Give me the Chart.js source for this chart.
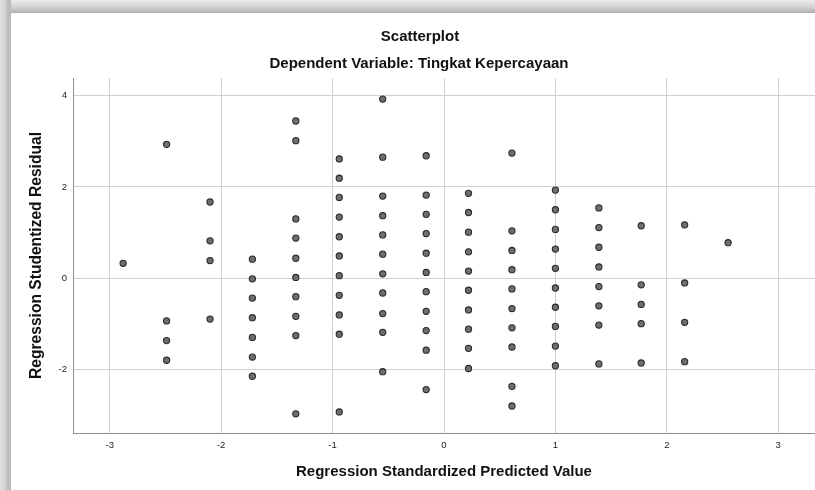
<!DOCTYPE html>
<html><head><meta charset="utf-8">
<script src="https://cdn.jsdelivr.net/npm/chart.js@4"></script>
<style>html,body{margin:0;padding:0;background:#fff}#wrap{width:815px;height:490px}</style>
</head><body><div id="wrap"><canvas id="c" width="815" height="490"></canvas></div>
<script>
// Regression Standardized Predicted Value (x) and Studentized Residual (y)
const predicted = [
  -2.88,
  -2.49, -2.49, -2.49, -2.49,
  -2.10, -2.10, -2.10, -2.10,
  -1.72, -1.72, -1.72, -1.72, -1.72, -1.72, -1.72,
  -1.33, -1.33, -1.33, -1.33, -1.33, -1.33, -1.33, -1.33, -1.33, -1.33,
  -0.94, -0.94, -0.94, -0.94, -0.94, -0.94, -0.94, -0.94, -0.94, -0.94, -0.94,
  -0.55, -0.55, -0.55, -0.55, -0.55, -0.55, -0.55, -0.55, -0.55, -0.55, -0.55,
  -0.16, -0.16, -0.16, -0.16, -0.16, -0.16, -0.16, -0.16, -0.16, -0.16, -0.16,
  0.22, 0.22, 0.22, 0.22, 0.22, 0.22, 0.22, 0.22, 0.22, 0.22,
  0.61, 0.61, 0.61, 0.61, 0.61, 0.61, 0.61, 0.61, 0.61, 0.61,
  1.00, 1.00, 1.00, 1.00, 1.00, 1.00, 1.00, 1.00, 1.00, 1.00,
  1.39, 1.39, 1.39, 1.39, 1.39, 1.39, 1.39, 1.39,
  1.77, 1.77, 1.77, 1.77, 1.77,
  2.16, 2.16, 2.16, 2.16,
  2.55
];
const residual = [
  0.33,
  2.93, -0.93, -1.36, -1.79,
  1.67, 0.82, 0.39, -0.89,
  0.42, -0.01, -0.43, -0.86, -1.29, -1.72, -2.14,
  3.44, 3.01, 1.30, 0.88, 0.44, 0.02, -0.40, -0.83, -1.25, -2.96,
  2.61, 2.19, 1.77, 1.34, 0.91, 0.49, 0.06, -0.37, -0.80, -1.22, -2.92,
  3.92, 2.65, 1.80, 1.37, 0.95, 0.53, 0.10, -0.32, -0.77, -1.18, -2.04,
  2.68, 1.82, 1.40, 0.98, 0.55, 0.13, -0.29, -0.72, -1.14, -1.57, -2.43,
  1.86, 1.44, 1.01, 0.58, 0.16, -0.26, -0.69, -1.11, -1.53, -1.97,
  2.74, 1.04, 0.61, 0.19, -0.23, -0.66, -1.08, -1.50, -2.36, -2.79,
  1.93, 1.50, 1.07, 0.64, 0.22, -0.21, -0.63, -1.05, -1.48, -1.91,
  1.54, 1.11, 0.68, 0.25, -0.18, -0.60, -1.02, -1.87,
  1.15, -0.14, -0.57, -0.99, -1.85,
  1.17, -0.10, -0.96, -1.82,
  0.78
];
const xTicks = [-3, -2, -1, 0, 1, 2, 3];
const yTicks = [-2, 0, 2, 4];
const chartTitle = 'Scatterplot';
const chartSubtitle = 'Dependent Variable: Tingkat Kepercayaan';
const xTitle = 'Regression Standardized Predicted Value';
const yTitle = 'Regression Studentized Residual';

const points = predicted.map((x, i) => ({x: x, y: residual[i]}));
const FONT = '"Liberation Sans", Arial, sans-serif';

const framePlugin = {
  id: 'frame',
  beforeDraw(chart) {
    const c = chart.ctx, W = chart.width, H = chart.height;
    c.save();
    c.fillStyle = '#ffffff';
    c.fillRect(0, 0, W, H);
    let g = c.createLinearGradient(0, 0, 0, 13);
    g.addColorStop(0, '#ececec');
    g.addColorStop(0.5, '#d4d4d4');
    g.addColorStop(0.85, '#bdbdbd');
    g.addColorStop(1, '#acacac');
    c.fillStyle = g;
    c.fillRect(0, 0, W, 13);
    g = c.createLinearGradient(0, 0, 11, 0);
    g.addColorStop(0, '#e0e0e0');
    g.addColorStop(0.5, '#d2d2d2');
    g.addColorStop(0.6, '#c2c2c2');
    g.addColorStop(1, '#b8b8b8');
    c.fillStyle = g;
    c.fillRect(0, 0, 11, H);
    c.restore();
  },
  afterDraw(chart) {
    const c = chart.ctx, a = chart.chartArea;
    c.save();
    c.fillStyle = '#111';
    c.font = 'bold 15px ' + FONT;
    c.textAlign = 'center';
    c.textBaseline = 'middle';
    c.fillText(chartTitle, 420, 37);
    c.fillText(chartSubtitle, 419, 64);
    c.fillText(xTitle, 444, 472);
    c.font = 'bold 15.6px ' + FONT;
    c.translate(37, (a.top + a.bottom) / 2);
    c.rotate(-Math.PI / 2);
    c.fillText(yTitle, 0, 0);
    c.restore();
  }
};

new Chart(document.getElementById('c'), {
  type: 'scatter',
  data: {
    datasets: [{
      data: points,
      pointRadius: 3.1,
      pointHoverRadius: 3.1,
      backgroundColor: '#6e6e6e',
      borderColor: '#2b2b2b',
      borderWidth: 1.1
    }]
  },
  options: {
    responsive: false,
    animation: false,
    devicePixelRatio: 1,
    layout: {autoPadding: false, padding: {top: 78, left: 0, right: -4, bottom: 0}},
    plugins: {legend: {display: false}, tooltip: {enabled: false}, title: {display: false}},
    scales: {
      x: {
        type: 'linear', min: -3.33, max: 3.33,
        afterBuildTicks: s => { s.ticks = xTicks.map(v => ({value: v})); },
        afterFit: s => { s.height = 57; s.paddingLeft = 0; s.paddingRight = 0; },
        grid: {color: '#d0d0d0', lineWidth: 1, drawTicks: false},
        border: {color: '#8c8c8c', width: 1},
        ticks: {padding: 7, font: {family: FONT, size: 9.5}, color: '#222', maxRotation: 0}
      },
      y: {
        type: 'linear', min: -3.38, max: 4.38,
        afterBuildTicks: s => { s.ticks = yTicks.map(v => ({value: v})); },
        afterFit: s => { s.width = 73; s.paddingTop = 0; s.paddingBottom = 0; },
        grid: {color: '#d0d0d0', lineWidth: 1, drawTicks: false},
        border: {color: '#8c8c8c', width: 1},
        ticks: {padding: 6, font: {family: FONT, size: 9.5}, color: '#222'}
      }
    }
  },
  plugins: [framePlugin]
});
</script>
</body></html>
